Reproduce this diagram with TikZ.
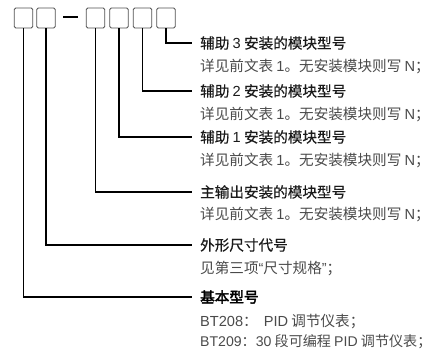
\documentclass[tikz,border=0pt]{standalone}
\usepackage{fontspec}
\setmainfont{Noto Sans CJK SC}
\newfontfamily\lat{Liberation Sans}
\newfontfamily\zhbold[FakeBold=2.5]{Noto Sans CJK SC}
\newfontfamily\zhmed[FakeBold=0.4]{Noto Sans CJK SC}
\definecolor{titlec}{HTML}{1A1A1A}
\definecolor{descc}{HTML}{4A4A4A}
\definecolor{boxc}{HTML}{505050}
\begin{document}
\begin{tikzpicture}[x=1pt,y=-1pt,
  digitbox/.style={draw=boxc,line width=0.9pt,rounded corners=1.5pt,minimum width=18.5pt,minimum height=20pt,inner sep=0pt},
  title/.style={anchor=west,inner ysep=0pt,inner xsep=8pt,font=\fontsize{14.6}{14.6}\selectfont\zhmed,text=titlec},
  desc/.style={anchor=west,inner sep=0pt,font=\fontsize{14.6}{14.6}\selectfont,text=descc},
  conn/.style={draw=black,line width=1.3pt}]
\useasboundingbox (0,0) rectangle (435,354);
\node[digitbox] (b1) at (23.5,18) {};
\node[digitbox] (b2) at (46,18) {};
\node[digitbox] (b3) at (95.5,18) {};
\node[digitbox] (b4) at (119,18) {};
\node[digitbox] (b5) at (142.5,18) {};
\node[digitbox] (b6) at (166,18) {};
\coordinate (d1) at (63,17);
\coordinate (d2) at (78,17);
\draw[black,line width=1.3pt] (d1) -- (d2);

\node[title] (t6) at (192,43) {辅助 {\lat 3} 安装的模块型号};
\node[desc] (s6) at (200,66) {详见前文表 {\lat 1}。无安装模块则写 {\lat N}；};
\node[title] (t5) at (192,91) {辅助 {\lat 2} 安装的模块型号};
\node[desc] (s5) at (200,114) {详见前文表 {\lat 1}。无安装模块则写 {\lat N}；};
\node[title] (t4) at (192,137) {辅助 {\lat 1} 安装的模块型号};
\node[desc] (s4) at (200,160) {详见前文表 {\lat 1}。无安装模块则写 {\lat N}；};
\node[title] (t3) at (192,192) {主输出安装的模块型号};
\node[desc] (s3) at (200,214) {详见前文表 {\lat 1}。无安装模块则写 {\lat N}；};
\node[title] (t2) at (192,245) {外形尺寸代号};
\node[desc] (s2) at (200,268) {见第三项{\lat “}尺寸规格{\lat ”}；};
\node[title,text=black] (t1) at (192,297) {\zhbold 基本型号};
\node[desc] (s1a) at (200,322) {{\lat BT208}：\hspace{6pt}{\lat PID} 调节仪表；};
\node[desc,font=\fontsize{14.1}{14.1}\selectfont] (s1b) at (200,342) {{\lat BT209}：{\lat 30} 段可编程 {\lat PID} 调节仪表；};

\draw[conn] (b6.south) |- (t6.west);
\draw[conn] (b5.south) |- (t5.west);
\draw[conn] (b4.south) |- (t4.west);
\draw[conn] (b3.south) |- (t3.west);
\draw[conn] (b2.south) |- (t2.west);
\draw[conn] (b1.south) |- (t1.west);
\end{tikzpicture}
\end{document}
